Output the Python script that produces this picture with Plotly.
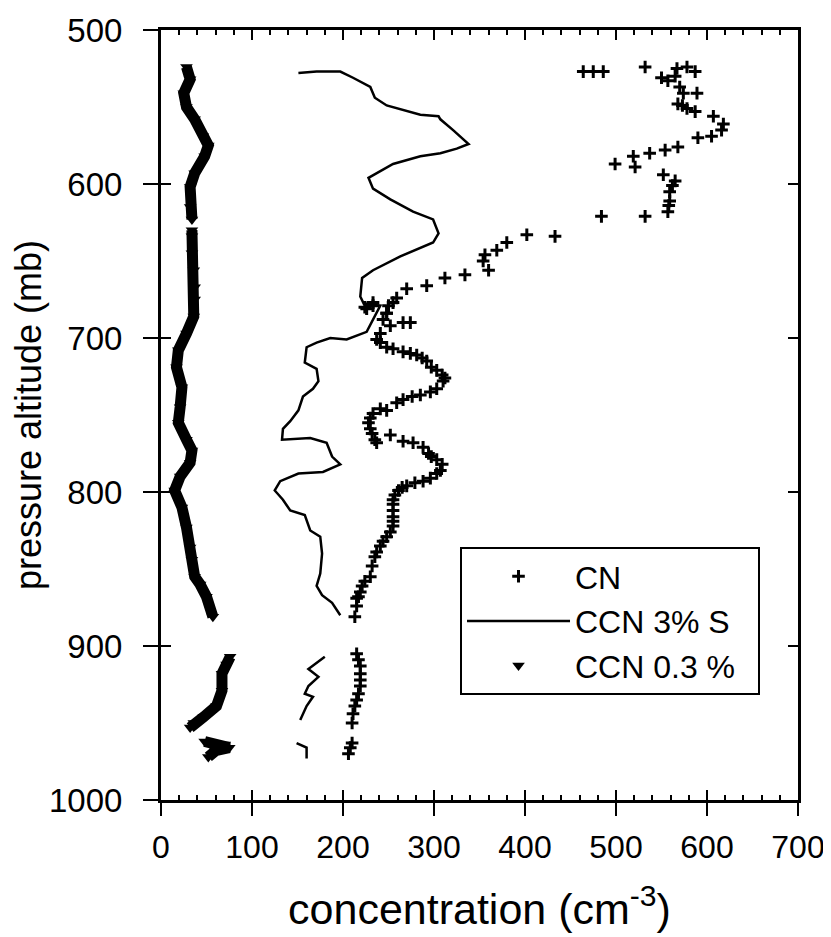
import plotly.graph_objects as go

# ---------------- data ----------------
# CN (crosses): concentration (cm^-3) and pressure (mb)
cn_conc = [464, 475, 486, 532, 550, 557, 565, 567, 578, 587, 570, 574, 589, 568, 573, 578, 587,
           607, 618, 616, 605, 590, 568, 554, 537, 519, 521, 499, 552, 565, 562, 559, 559, 558,
           557, 532, 484, 433, 402, 380, 369, 356, 354, 360, 334, 312, 292, 270, 259, 250, 233,
           224, 248,
           233, 255, 226, 248, 244, 266, 274, 252, 241, 237, 241,
           248, 255, 266, 274, 281, 287, 292, 297, 303, 309, 312, 310, 303, 296, 285, 276, 266,
           259, 248, 241, 233, 230, 228, 230, 232, 235, 237, 252, 266, 277, 288, 294, 297, 303,
           309, 307, 303, 296, 288, 279, 270, 265, 261, 257, 255, 255, 255, 255, 255, 255, 252,
           248, 244, 241, 237, 235, 232, 230, 224, 221, 219, 217, 215, 215, 213,
           215, 217, 219, 219, 219, 219, 217, 215, 213, 211, 210,
           210, 208, 206]
cn_pres = [527, 527, 527, 524, 531, 533, 530, 525, 524, 527, 537, 541, 541, 548, 549, 551, 553,
           556, 561, 565, 569, 570, 576, 578, 580, 582, 589, 587, 594, 598, 601, 605, 611, 614,
           618, 621, 621, 634, 633, 638, 643, 646, 650, 656, 659, 661, 666, 668, 674, 679, 679,
           680, 684,
           677, 677, 681, 684, 688, 690, 690, 692, 697, 701, 703,
           706, 707, 709, 710, 711, 713, 715, 719, 721, 724, 726, 728, 733, 735, 737, 738, 740,
           742, 747, 746, 749, 752, 755, 759, 762, 766, 768, 763, 767, 768, 771, 775, 777, 779,
           782, 786, 788, 791, 793, 794, 796, 797, 799, 802, 805, 808, 812, 816, 819, 822, 826,
           829, 832, 835, 839, 842, 848, 855, 858, 861, 865, 868, 869, 874, 881,
           905, 909, 913, 918, 922, 926, 931, 935, 939, 944, 950,
           963, 966, 970]

# CCN 3% S (solid line); None marks gaps in the trace
ccn3_conc = [151, 171, 197, 211, 230, 235, 248, 266, 285, 305, 307, 321, 338, 325, 307, 285, 255,
             228, 233, 252, 277, 299, 305, 299, 263, 233, 221, 219, 223, 241, 226, 204, 186, 171,
             160, 158, 171, 173, 167, 156, 151, 142, 134, 133, 164, 182, 188, 197, 178, 151, 131,
             125, 134, 142, 158, 164, 175, 177, 175, 171, 177, 188, 197,
             None,
             180, 162, 173, 162, 158, 167, 160, 153,
             None,
             149, 160, 160]
ccn3_pres = [528, 527, 527, 531, 537, 544, 549, 552, 555, 556, 558, 565, 574, 577, 580, 582, 587,
             596, 603, 610, 618, 623, 632, 638, 647, 656, 661, 673, 678, 679, 696, 701, 700, 703,
             706, 716, 720, 728, 733, 738, 747, 754, 759, 766, 765, 768, 777, 782, 787, 788, 793,
             799, 805, 812, 815, 825, 829, 840, 853, 861, 867, 872, 880,
             None,
             907, 915, 920, 926, 931, 933, 939, 948,
             None,
             963, 966, 973]

# CCN 0.3 % (filled triangles)
ccn03_conc = [28, 32, 25, 28, 37, 46, 52, 48, 37, 32, 32, 34,
              None,
              34, 34, 34, 36, 37, 37, 36, 28, 19, 17, 23, 21, 19, 28, 34, 32, 21, 15, 23, 28, 32,
              34, 37, 43, 50, 57,
              None,
              76, 72, 67, 67, 61, 47, 36, 32,
              None,
              48, 70, 75, 60, 52]
ccn03_pres = [524, 532, 541, 550, 558, 569, 575, 582, 593, 602, 615, 623,
              None,
              630, 634, 645, 656, 667, 675, 686, 697, 708, 719, 732, 745, 755, 766, 773, 781, 790,
              799, 810, 823, 836, 844, 855, 860, 868, 881,
              None,
              907, 912, 918, 929, 939, 946, 950, 953,
              None,
              962, 964, 966, 968, 972]

x_ticks = [0, 100, 200, 300, 400, 500, 600, 700]
y_ticks = [500, 600, 700, 800, 900, 1000]

FONT = "Liberation Sans, Arial, Helvetica, sans-serif"

fig = go.Figure()

# ---- legend traces (order: CN, CCN 3% S, CCN 0.3 %) ----
fig.add_trace(go.Scatter(
    x=cn_conc, y=cn_pres, mode="markers", name="CN",
    marker=dict(symbol="cross-thin", size=9, line=dict(width=3, color="black"), color="black"),
))
fig.add_trace(go.Scatter(
    x=ccn3_conc, y=ccn3_pres, mode="lines", name="CCN 3% S",
    line=dict(color="black", width=2.5), connectgaps=False,
))
# thick band behind the triangles (same data)
fig.add_trace(go.Scatter(
    x=ccn03_conc, y=ccn03_pres, mode="lines", showlegend=False, hoverinfo="skip",
    line=dict(color="black", width=11), connectgaps=False,
))
fig.add_trace(go.Scatter(
    x=ccn03_conc, y=ccn03_pres, mode="markers", name="CCN 0.3 %&nbsp;&nbsp;",
    marker=dict(symbol="triangle-down", size=11, color="black"),
))
# empty trace to bind the overlay axes (outside tick halves + labels)
fig.add_trace(go.Scatter(x=[], y=[], xaxis="x2", yaxis="y2", showlegend=False))

axis_common = dict(showgrid=False, zeroline=False, color="black", automargin=False)

# page body has an 8px default margin, so the figure is 8px smaller and margins shifted
fig.update_layout(
    width=823, height=929,
    margin=dict(l=153, r=33, t=22, b=137, autoexpand=False),
    paper_bgcolor="white", plot_bgcolor="white",
    font=dict(family=FONT, color="black", size=32),
    xaxis=dict(
        range=[0, 700], tickvals=x_ticks, ticks="inside", ticklen=10, tickwidth=2,
        mirror="ticks", showline=True, linewidth=3, linecolor="black",
        showticklabels=False,
        minor=dict(dtick=20, tick0=0, ticks="inside", ticklen=5, tickwidth=2, tickcolor="black"),
        **axis_common,
    ),
    yaxis=dict(
        range=[1000, 500], tickvals=y_ticks, ticks="inside", ticklen=10, tickwidth=2,
        mirror="ticks", showline=True, linewidth=3, linecolor="black",
        showticklabels=False,
        **axis_common,
    ),
    xaxis2=dict(
        overlaying="x", anchor="y2", side="bottom", range=[0, 700], tickvals=x_ticks,
        ticktext=[str(v) for v in x_ticks],
        ticks="outside", ticklen=15, tickwidth=2, tickcolor="black", showline=False,
        ticklabelstandoff=4,
        tickfont=dict(family=FONT, size=32, color="black"),
        title=dict(text="concentration (cm<sup>-3</sup>)",
                   font=dict(family=FONT, size=43, color="black"), standoff=29),
        **axis_common,
    ),
    yaxis2=dict(
        overlaying="y", anchor="x2", side="left", range=[1000, 500], tickvals=y_ticks,
        ticktext=[str(v) for v in y_ticks],
        ticks="outside", ticklen=17, tickwidth=2, tickcolor="black", showline=False,
        ticklabelstandoff=14,
        tickfont=dict(family=FONT, size=33, color="black"),
        title=dict(text="pressure altitude (mb)",
                   font=dict(family=FONT, size=36, color="black"), standoff=10),
        **axis_common,
    ),
    legend=dict(
        x=0.4694, y=0.3286, xanchor="left", yanchor="top",
        bordercolor="black", borderwidth=2, bgcolor="white",
        font=dict(family=FONT, size=32, color="black"),
        itemwidth=103, tracegroupgap=0,
    ),
    showlegend=True,
)

fig.write_html("out.html")
